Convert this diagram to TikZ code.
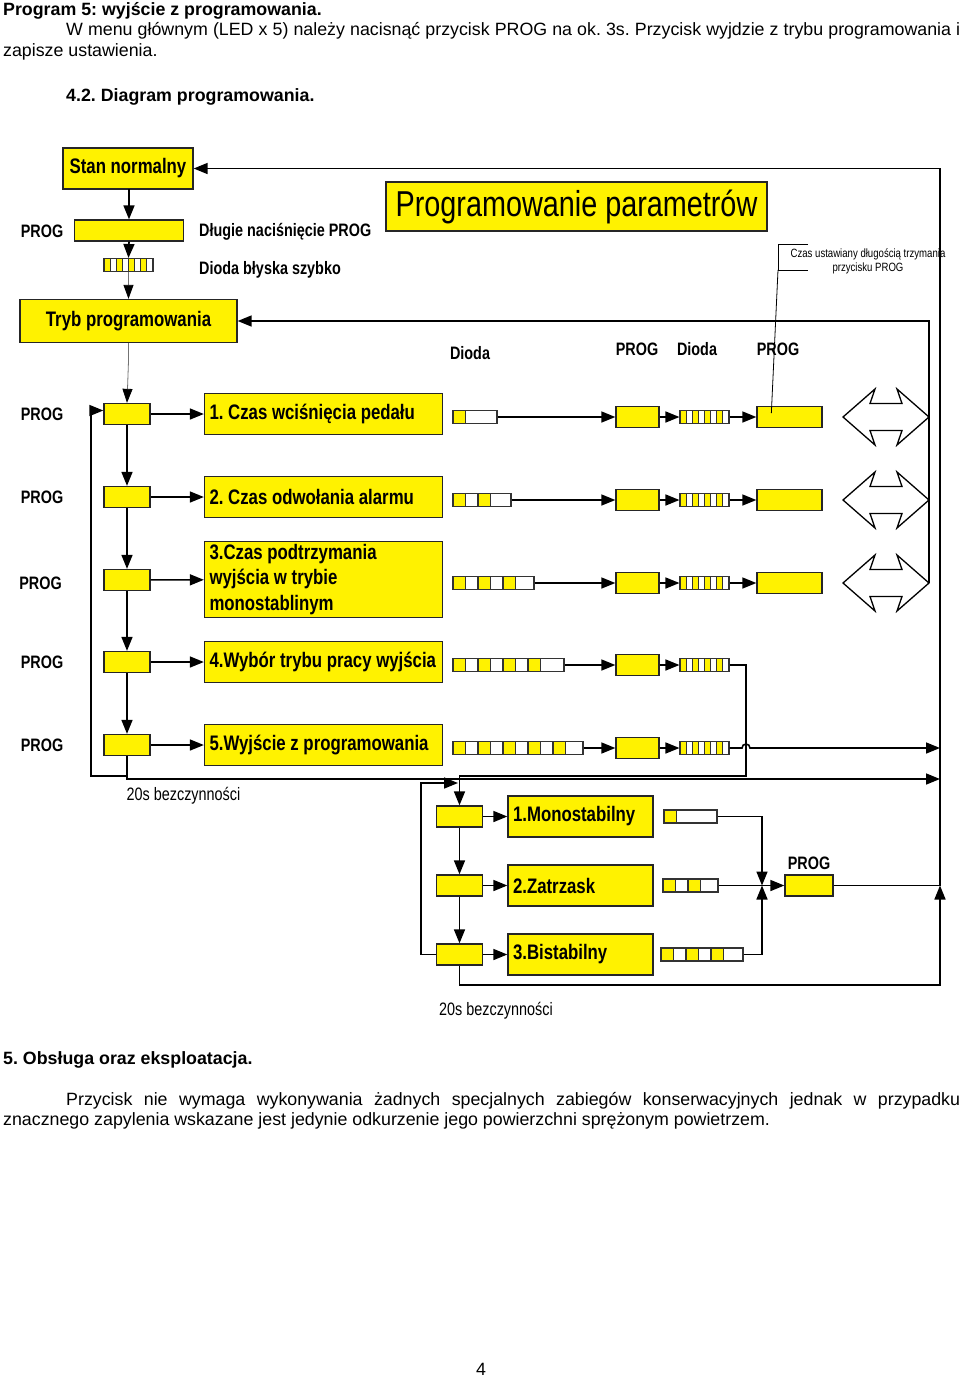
\documentclass[tikz,border=0pt]{standalone}
\usepackage{fontspec}
\setmainfont{Liberation Sans}
\newfontfamily\waska[FakeStretch=0.8]{Liberation Sans}
\usetikzlibrary{arrows.meta,calc}
\newcommand{\tekst}{\fontsize{17.8}{20.5}\selectfont}
\newcommand{\dioda}[5]{%
  \node[dbox, minimum width=#5pt] (#1) at ({#2+#5/2},#3) {};
  \foreach \k in {1,...,#4}
    \draw[dcell] ({#2+(2*\k-2)*12.5},#3-6.5) rectangle ++(12.5,13);
}
\newcommand{\miga}[3]{%
  \node[dbox, minimum width=49pt] (#1) at (#2,#3) {};
  \foreach \k in {0,2,4,6}
    \draw[dcell] ({#2-24.5+\k*6.125},#3-6.5) rectangle ++(6.125,13);
}
\newcommand{\strzalka}[2]{%
  \draw[line width=1.3pt, fill=white] (843,#2) -- (875,#2-28) -- (870,#2-13.5) -- (902,#2-13.5) -- (897,#2-28) -- (929,#2)
    -- (897,#2+28) -- (902,#2+13.5) -- (870,#2+13.5) -- (875,#2+28) -- cycle;
  \coordinate (#1) at (929,#2);
}

\begin{document}
\frenchspacing
\begin{tikzpicture}[x=1pt,y=-1pt]
\tikzstyle{box}=[draw=black!85, fill=yellow, line width=1.3pt, inner sep=0pt, font=\waska\bfseries\fontsize{21}{25.5}\selectfont]
\tikzstyle{lbox}=[box, minimum width=238pt, minimum height=41pt, text width=228pt, align=flush left]
\tikzstyle{mbox}=[box, minimum width=145pt, minimum height=41pt, text width=135pt, align=flush left]
\tikzstyle{sbox}=[draw=black!85, fill=yellow, line width=1.3pt, inner sep=0pt, minimum width=46pt, minimum height=21pt]
\tikzstyle{dbox}=[draw=black!80, fill=white, line width=1.1pt, inner sep=0pt, minimum height=13pt]
\tikzstyle{dcell}=[draw=black!80, fill=yellow, line width=1.1pt]
\tikzstyle{opis}=[inner sep=0pt, font=\waska\bfseries\fontsize{18}{21}\selectfont]
\tikzstyle{tekst}=[anchor=base west, inner sep=0pt, font=\tekst]
\tikzstyle{arr}=[-{Triangle[length=14pt,width=11pt]}, line width=1.6pt]
\tikzstyle{szara}=[draw=black!55, line width=0.8pt, -{Triangle[length=14pt,width=10pt,color=black]}]

\fill[white] (0,0) rectangle (960,1377);
\useasboundingbox (0,0) rectangle (960,1377);

\node[tekst, font=\tekst\bfseries] (T1) at (3,15) {Program 5: wyjście z programowania.};
\node[tekst] (T2) at (66,35.5) {\hbox to 894pt{W menu głównym (LED x 5) należy nacisnąć przycisk PROG na ok. 3s. Przycisk wyjdzie z trybu programowania i}};
\node[tekst] (T3) at (3,56) {zapisze ustawienia.};
\node[tekst, font=\tekst\bfseries] (T4) at (66,101) {4.2. Diagram programowania.};

\node[box, minimum width=130pt, minimum height=41pt] (SN) at (128,168.5) {Stan normalny};
\node[sbox, minimum width=109pt] (P0) at (129,230.5) {};
\miga{B0}{128.5}{265}
\node[box, minimum width=217pt, minimum height=43pt] (TP) at (128.5,321) {Tryb programowania};
\node[box, minimum width=381pt, minimum height=49pt, font=\waska\fontsize{36}{40}\selectfont] (PP) at (576.5,206.5) {Programowanie parametrów};
\node[opis] (O1) at (42,231) {PROG};
\node[opis, anchor=west] (O2) at (199,232) {Długie naciśnięcie PROG};
\node[opis, anchor=west] (O3) at (199,270) {Dioda błyska szybko};
\node[font=\waska\fontsize{12}{14}\selectfont, align=center, inner sep=0pt] (CU) at (868,261) {Czas ustawiany długością trzymania\\przycisku PROG};

\node[opis] (K1) at (470,353) {Dioda};
\node[opis] (K2) at (637,349) {PROG};
\node[opis] (K3) at (697,349) {Dioda};
\node[opis] (K4) at (778,349) {PROG};

\node[opis] (R1) at (42,414) {PROG};
\node[opis] (R2) at (42,497) {PROG};
\node[opis] (R3) at (40.5,583) {PROG};
\node[opis] (R4) at (42,662) {PROG};
\node[opis] (R5) at (42,745) {PROG};

\node[sbox] (P1) at (127,414) {};
\node[sbox] (P2) at (127,497) {};
\node[sbox] (P3) at (127,580) {};
\node[sbox] (P4) at (127,662) {};
\node[sbox] (P5) at (127,745) {};

\node[lbox] (L1) at (323.5,414) {1. Czas wciśnięcia pedału};
\node[lbox] (L2) at (323.5,497) {2. Czas odwołania alarmu};
\node[lbox, minimum height=76pt] (L3) at (323.5,579.5) {3.Czas podtrzymania\\wyjścia w trybie\\monostablinym};
\node[lbox] (L4) at (323.5,662) {4.Wybór trybu pracy wyjścia};
\node[lbox] (L5) at (323.5,745) {5.Wyjście z programowania};

\dioda{D1}{453}{417}{1}{44}
\dioda{D2}{453}{500}{2}{58}
\dioda{D3}{453}{583}{3}{81}
\dioda{D4}{453}{665}{4}{111}
\dioda{D5}{453}{748}{5}{130}

\node[sbox, minimum width=43pt] (A1) at (637.5,417) {};
\node[sbox, minimum width=43pt] (A2) at (637.5,500) {};
\node[sbox, minimum width=43pt] (A3) at (637.5,583) {};
\node[sbox, minimum width=43pt] (A4) at (637.5,665) {};
\node[sbox, minimum width=43pt] (A5) at (637.5,748) {};

\miga{B1}{704.5}{417}
\miga{B2}{704.5}{500}
\miga{B3}{704.5}{583}
\miga{B4}{704.5}{665}
\miga{B5}{704.5}{748}

\node[sbox, minimum width=65pt] (C1) at (789.5,417) {};
\node[sbox, minimum width=65pt] (C2) at (789.5,500) {};
\node[sbox, minimum width=65pt] (C3) at (789.5,583) {};

\strzalka{S1}{417}
\strzalka{S2}{500}
\strzalka{S3}{583}

\node[sbox] (M1) at (459.5,816.5) {};
\node[sbox] (M2) at (459.5,885.5) {};
\node[sbox] (M3) at (459.5,954.5) {};
\node[mbox] (N1) at (580.5,816.5) {1.Monostabilny};
\node[mbox] (N2) at (580.5,885.5) {2.Zatrzask};
\node[mbox] (N3) at (580.5,954.5) {3.Bistabilny};
\dioda{E1}{664}{816.5}{1}{53}
\dioda{E2}{663}{885.5}{2}{55}
\dioda{E3}{661}{954.5}{3}{82}
\node[sbox, minimum width=48pt] (PB) at (809,885.5) {};
\node[opis] (O9) at (809,863) {PROG};

\node[opis, font=\waska\fontsize{18}{21}\selectfont] (Z1) at (183.5,796) {20s bezczynności};
\node[opis, font=\waska\fontsize{18}{21}\selectfont] (Z2) at (496,1011) {20s bezczynności};

\coordinate (Y1) at (127,776);
\coordinate (Y2) at (940,779);
\coordinate (Y3) at (458,783);
\coordinate (Y5) at (940,748);
\coordinate (G) at (940,885.5);
\coordinate (J) at (762,885.5);

\draw[arr] (SN.south) -- (P0.south |- SN.south) -- (P0.north);
\draw[arr] (P0.south) -- (B0.north);
\draw[szara] (B0.south) -- (TP.north);
\draw[szara] (TP.south) -- ++(0,18) -- (P1.north);

\path[arr] (P1) edge (P2)
           (P2) edge (P3)
           (P3) edge (P4)
           (P4) edge (P5);
\foreach \i in {1,...,5} {
  \path[arr] (P\i) edge (L\i)
             (D\i) edge (A\i)
             (A\i) edge (B\i);
}
\foreach \i in {1,2,3} \path[arr] (B\i) edge (C\i);

\draw[arr] (Y1) -- (91,776) |- ($(P1.west)+(0,-3.5)$);
\draw[arr] (P5.south) |- (Y2);
\draw[arr] (B4.east) -| (746,776) -| (M1.north);
\draw[arr] (B5.east) -- (742,748) arc[start angle=180, end angle=360, radius=4] -- (Y5);
\draw[arr] (S3) |- (TP.east);

\path[arr] (M1) edge (M2)
           (M2) edge (M3)
           (M1) edge (N1)
           (M2) edge (N2)
           (M3) edge (N3)
           (E2) edge (PB);
\draw[arr] (M3.west) -| (421,783) -- (Y3);
\draw[arr] (E1.east) -| (J);
\draw[arr] (E3.east) -| (J);
\draw[arr] (M3.south) |- (940,985) -- (G);
\draw[arr] (PB.east) -- (G) |- (SN.east);

\draw[line width=0.8pt] (808,244) -| (778,270) -- (808,270);
\draw[line width=0.8pt] (778,270) -- ($(C1.west)+(15,-4)$);

\node[tekst, font=\tekst\bfseries] (T5) at (3,1064) {5. Obsługa oraz eksploatacja.};
\node[tekst] (T6) at (66,1105) {\hbox to 894pt{Przycisk nie wymaga wykonywania żadnych specjalnych zabiegów konserwacyjnych jednak w przypadku}};
\node[tekst] (T7) at (3,1125) {znacznego zapylenia wskazane jest jedynie odkurzenie jego powierzchni sprężonym powietrzem.};
\node[tekst, anchor=base] (T8) at (481,1375) {4};
\end{tikzpicture}
\end{document}
